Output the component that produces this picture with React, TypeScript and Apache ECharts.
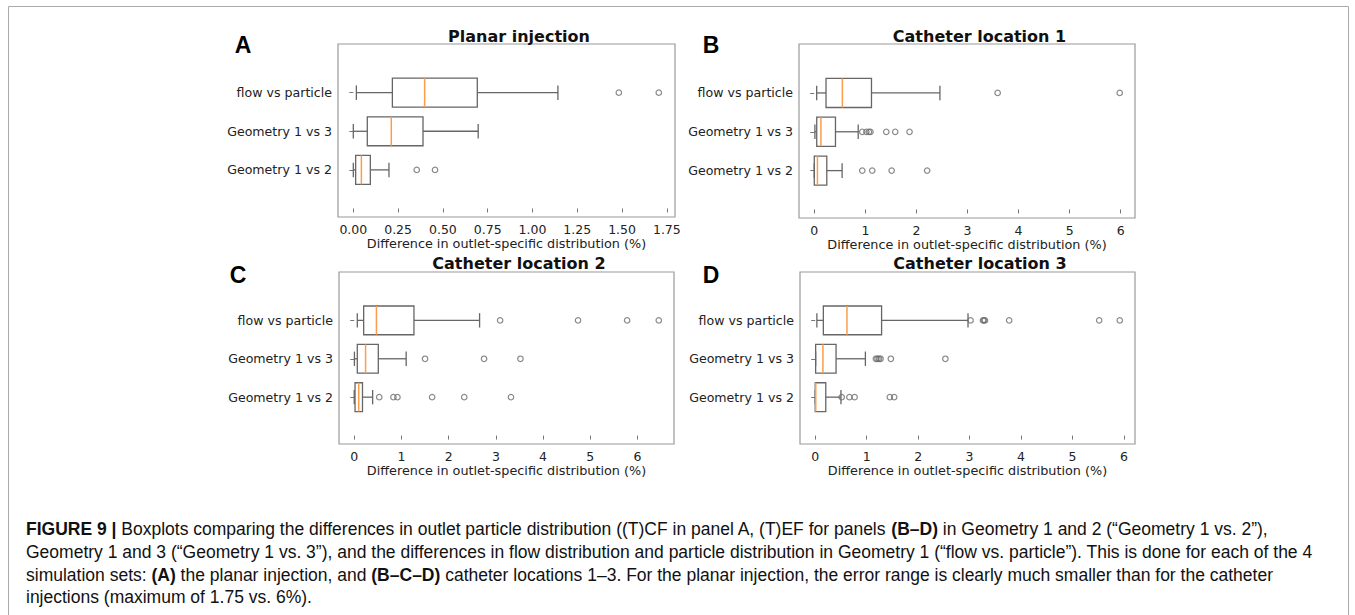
import React, { useEffect, useRef } from "react";
import * as echarts from "echarts";

// Categories at y positions 1, 2, 3 (bottom to top)
const categories = ["Geometry 1 vs 2", "Geometry 1 vs 3", "flow vs particle"];
const panelTitles = ["Planar injection", "Catheter location 1", "Catheter location 2", "Catheter location 3"];
const panelLetters = ["A", "B", "C", "D"];
const xAxisName = "Difference in outlet-specific distribution (%)";

// [low whisker, Q1, median, Q3, high whisker] for each category (same order as categories)
const statsA = [
  [0.0, 0.013, 0.045, 0.095, 0.199],
  [0.0, 0.078, 0.212, 0.389, 0.697],
  [0.017, 0.218, 0.398, 0.692, 1.142],
];
const outliersA = [[0.354, 0.456], [], [1.482, 1.705]];

const statsB = [
  [0.0, 0.0, 0.062, 0.245, 0.545],
  [0.012, 0.048, 0.13, 0.415, 0.86],
  [0.047, 0.23, 0.55, 1.12, 2.46],
];
const outliersB = [[0.94, 1.135, 1.515, 2.21], [0.94, 1.02, 1.07, 1.1, 1.41, 1.585, 1.865], [3.59, 5.98]];

const statsC = [
  [0.0, 0.017, 0.095, 0.175, 0.39],
  [0.004, 0.065, 0.24, 0.51, 1.1],
  [0.065, 0.2, 0.47, 1.265, 2.655],
];
const outliersC = [[0.53, 0.83, 0.915, 1.65, 2.33, 3.32], [1.5, 2.75, 3.52], [3.09, 4.74, 5.78, 6.45]];

const statsD = [
  [0.0, 0.0, 0.01, 0.205, 0.5],
  [0.008, 0.008, 0.15, 0.405, 0.975],
  [0.032, 0.158, 0.617, 1.29, 2.97],
];
const outliersD = [
  [0.515, 0.665, 0.765, 1.45, 1.535],
  [1.18, 1.21, 1.24, 1.27, 1.47, 2.53],
  [3.02, 3.26, 3.28, 3.3, 3.77, 5.52, 5.92],
];

const ticksA = [0, 0.25, 0.5, 0.75, 1.0, 1.25, 1.5, 1.75];
const ticksBCD = [0, 1, 2, 3, 4, 5, 6];

const captionLines = [
  "{b|FIGURE 9 |}{n| Boxplots comparing the differences in outlet particle distribution ((T)CF in panel A, (T)EF for panels }{b|(B–D)}{n| in Geometry 1 and 2 (“Geometry 1 vs. 2”),}",
  "{n|Geometry 1 and 3 (“Geometry 1 vs. 3”), and the differences in flow distribution and particle distribution in Geometry 1 (“flow vs. particle”). This is done for each of the 4}",
  "{n|simulation sets: }{b|(A)}{n| the planar injection, and }{b|(B–C–D)}{n| catheter locations 1–3. For the planar injection, the error range is clearly much smaller than for the catheter}",
  "{n|injections (maximum of 1.75 vs. 6%).}",
];

const panels = [
  { stats: statsA, outliers: outliersA, ticks: ticksA, min: -0.0855, max: 1.7955, dec: 2, grid: { left: 338, top: 44, width: 337, height: 173 } },
  { stats: statsB, outliers: outliersB, ticks: ticksBCD, min: -0.299, max: 6.279, dec: 0, grid: { left: 799, top: 44, width: 336, height: 174 } },
  { stats: statsC, outliers: outliersC, ticks: ticksBCD, min: -0.3225, max: 6.7725, dec: 0, grid: { left: 339, top: 272, width: 335, height: 172 } },
  { stats: statsD, outliers: outliersD, ticks: ticksBCD, min: -0.296, max: 6.216, dec: 0, grid: { left: 800, top: 272, width: 335, height: 172 } },
];

const letterPos = [
  [243, 45],
  [711, 45],
  [238, 275],
  [711, 275],
];

const FRAME = "#9a9a9a";
const BOX = "#666666";
const MEDIAN = "#fb9d4a";
const TXT = "#222222";
const MPL = "DejaVu Sans";

export default function App() {
  const ref = useRef<HTMLDivElement>(null);

  useEffect(() => {
    if (!ref.current) return;
    const chart = echarts.init(ref.current, undefined, { renderer: "svg" });

    const grids: any[] = [];
    const xAxes: any[] = [];
    const yAxes: any[] = [];
    const series: any[] = [];
    const graphics: any[] = [];

    panels.forEach((p, i) => {
      grids.push({ ...p.grid, show: true, borderColor: FRAME, borderWidth: 1.2, backgroundColor: "transparent" });
      xAxes.push({
        type: "value",
        gridIndex: i,
        min: p.min,
        max: p.max,
        splitLine: { show: false },
        axisLine: { show: false },
        axisTick: { show: true, length: 4, customValues: p.ticks, lineStyle: { color: "#777", width: 1 } },
        axisLabel: {
          customValues: p.ticks,
          margin: 6,
          color: TXT,
          fontFamily: MPL,
          fontSize: 12.5,
          formatter: (v: number) => v.toFixed(p.dec),
        },
        name: xAxisName,
        nameLocation: "middle",
        nameGap: 19,
        nameTextStyle: { color: TXT, fontFamily: MPL, fontSize: 12.8 },
      });
      yAxes.push({
        type: "value",
        gridIndex: i,
        min: -0.22,
        max: 4.26,
        splitLine: { show: false },
        axisLine: { show: false },
        axisTick: { show: true, length: 4, customValues: [1, 2, 3], lineStyle: { color: "#777", width: 1 } },
        axisLabel: {
          customValues: [1, 2, 3],
          margin: 6,
          color: TXT,
          fontFamily: MPL,
          fontSize: 12.6,
          formatter: (v: number) => categories[Math.round(v) - 1] || "",
        },
      });

      const boxData = p.stats.map((s, k) => [k + 1, ...s]);
      series.push({
        type: "custom",
        xAxisIndex: i,
        yAxisIndex: i,
        data: boxData,
        encode: { x: [1, 2, 3, 4, 5], y: 0 },
        renderItem: (params: any, api: any) => {
          const pos = api.value(0);
          const lo = api.value(1);
          const q1 = api.value(2);
          const med = api.value(3);
          const q3 = api.value(4);
          const hi = api.value(5);
          const hb = 0.375;
          const hc = 0.1875;
          const c = (x: number, y: number) => api.coord([x, y]);
          const yc = c(lo, pos)[1];
          const yTop = c(lo, pos + hb)[1];
          const yBot = c(lo, pos - hb)[1];
          const cTop = c(lo, pos + hc)[1];
          const cBot = c(lo, pos - hc)[1];
          const xlo = c(lo, pos)[0];
          const xq1 = c(q1, pos)[0];
          const xmed = c(med, pos)[0];
          const xq3 = c(q3, pos)[0];
          const xhi = c(hi, pos)[0];
          const ls = { stroke: BOX, lineWidth: 1.3, fill: null };
          return {
            type: "group",
            children: [
              { type: "line", shape: { x1: xlo, y1: yc, x2: xq1, y2: yc }, style: ls },
              { type: "line", shape: { x1: xq3, y1: yc, x2: xhi, y2: yc }, style: ls },
              { type: "line", shape: { x1: xlo, y1: cTop, x2: xlo, y2: cBot }, style: ls },
              { type: "line", shape: { x1: xhi, y1: cTop, x2: xhi, y2: cBot }, style: ls },
              { type: "rect", shape: { x: xq1, y: yTop, width: Math.max(xq3 - xq1, 0.5), height: yBot - yTop }, style: { stroke: BOX, lineWidth: 1.3, fill: "none" } },
              { type: "line", shape: { x1: xmed, y1: yTop, x2: xmed, y2: yBot }, style: { stroke: MEDIAN, lineWidth: 1.5 } },
            ],
          };
        },
        silent: true,
        z: 2,
      });

      const outData: number[][] = [];
      p.outliers.forEach((arr, k) => arr.forEach((v) => outData.push([v, k + 1])));
      series.push({
        type: "scatter",
        xAxisIndex: i,
        yAxisIndex: i,
        data: outData,
        symbol: "circle",
        symbolSize: 5.5,
        itemStyle: { color: "rgba(255,255,255,0)", borderColor: "#6a6a6a", borderWidth: 1.2 },
        silent: true,
        z: 3,
      });

      const g = p.grid;
      graphics.push({
        type: "text",
        x: g.left + g.width / 2 + 12.5,
        y: i < 2 ? 36 : 263.5,
        style: {
          text: panelTitles[i],
          fill: "#111",
          font: `bold 16px "${MPL}"`,
          align: "center",
          verticalAlign: "middle",
        },
      });
      graphics.push({
        type: "text",
        x: letterPos[i][0],
        y: letterPos[i][1],
        style: {
          text: panelLetters[i],
          fill: "#000",
          font: 'bold 23px "Liberation Sans"',
          align: "center",
          verticalAlign: "middle",
        },
      });
    });

    const capFont = { fontFamily: "Liberation Sans", fontSize: 17.5, fill: "#111" };
    const capY = [529, 552, 575, 597];
    captionLines.forEach((line, k) => {
      graphics.push({
        type: "text",
        x: 26,
        y: capY[k],
        style: {
          text: line,
          ...capFont,
          verticalAlign: "middle",
          align: "left",
          rich: {
            b: { ...capFont, fontWeight: "bold" },
            n: { ...capFont, fontWeight: "normal" },
          },
        },
      });
    });

    graphics.push({
      type: "rect",
      shape: { x: 8.5, y: 6.5, width: 1340, height: 700 },
      style: { fill: "none", stroke: "#aaaaaa", lineWidth: 1 },
      silent: true,
    });

    chart.setOption({
      animation: false,
      backgroundColor: "#ffffff",
      grid: grids,
      xAxis: xAxes,
      yAxis: yAxes,
      series,
      graphic: { elements: graphics },
    });

    return () => chart.dispose();
  }, []);

  return (
    <div
      ref={ref}
      style={{ position: "fixed", left: 0, top: 0, width: 1355, height: 615, background: "#fff" }}
    />
  );
}
